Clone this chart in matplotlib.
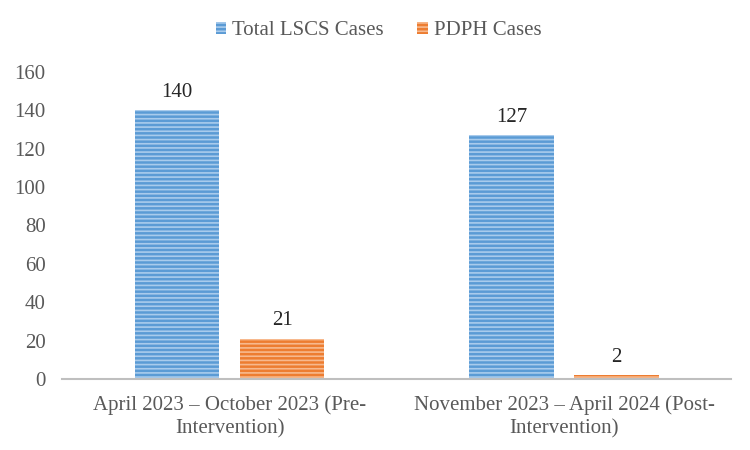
import numpy as np
import matplotlib.pyplot as plt

plt.rcParams['font.family'] = ['Liberation Serif', 'DejaVu Serif']
plt.rcParams['hatch.linewidth'] = 1.2

# Data
categories = ['April 2023 – October 2023 (Pre-\nIntervention)',
              'November 2023 – April 2024 (Post-\nIntervention)']
total_lscs = [140, 127]
pdph = [21, 2]

x = np.arange(len(categories))
width = 0.254
gap = 0.06

fig, ax = plt.subplots(figsize=(7.5, 4.5), dpi=100)
fig.subplots_adjust(left=0.083, right=0.975, top=0.84, bottom=0.158)

b1 = ax.bar(x - (width + gap) / 2, total_lscs, width, color='#5B9BD5',
            edgecolor='#A9CBEC', hatch='----', linewidth=0, label='Total LSCS Cases')
b2 = ax.bar(x + (width + gap) / 2, pdph, width, color='#ED7D31',
            edgecolor='#F7B98E', hatch='----', linewidth=0, label='PDPH Cases')

for bars in (b1, b2):
    ax.bar_label(bars, padding=6, fontsize=15, color='#262626')

ax.set_ylim(0, 160)
ax.set_yticks(range(0, 161, 20))
ax.set_xlim(-0.5, 1.5)
ax.set_xticks(x)
ax.set_xticklabels(categories, linespacing=1.3)
ax.tick_params(axis='both', labelsize=15, colors='#595959', length=0)
ax.tick_params(axis='x', pad=12)
ax.tick_params(axis='y', pad=12)

for side in ('top', 'right', 'left'):
    ax.spines[side].set_visible(False)
ax.spines['bottom'].set_color('#BFBFBF')
ax.spines['bottom'].set_linewidth(1.5)

fig.legend(loc='center', ncol=2, frameon=False, fontsize=15,
           bbox_to_anchor=(0.505, 0.932), handlelength=0.5, handleheight=0.5,
           columnspacing=1.6, handletextpad=0.3, labelcolor='#595959')

fig.savefig('out.png')
